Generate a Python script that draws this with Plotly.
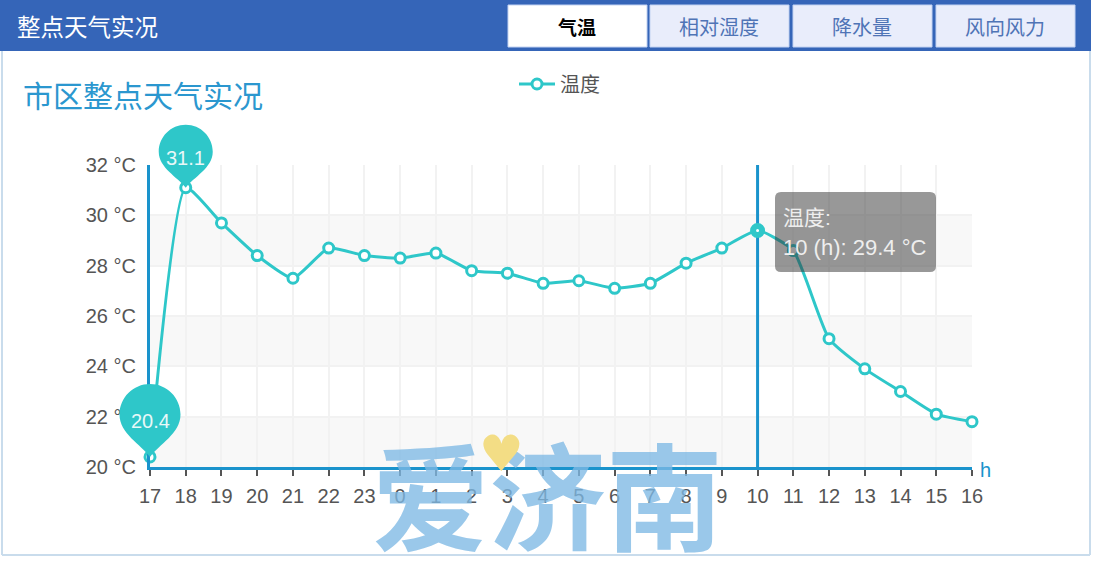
import plotly.graph_objects as go

hours = [17, 18, 19, 20, 21, 22, 23, 0, 1, 2, 3, 4, 5, 6, 7, 8, 9, 10, 11, 12, 13, 14, 15, 16]
temps = [20.4, 31.1, 29.7, 28.4, 27.5, 28.7, 28.4, 28.3, 28.5, 27.8, 27.7, 27.3, 27.4, 27.1, 27.3, 28.1, 28.7, 29.4, 28.6, 25.1, 23.9, 23.0, 22.1, 21.8]
y_ticks = [20, 22, 24, 26, 28, 30, 32]
tabs = ["气温", "相对湿度", "降水量", "风向风力"]
series_name = "温度"
focus_hour = 10

W, H = 1100, 564
L, R, T, B = 150, 972, 165, 467
TEAL = "#2ec7c9"
AXIS = "#1a93cc"
LAT = "Liberation Sans, Noto Sans CJK SC, sans-serif"
CJK = "Noto Sans CJK SC, sans-serif"


def xp(px):
    return (px - L) / (R - L)


def yp(py):
    return (B - py) / (B - T)


def rect(x0, y0, x1, y1, fill, line=None, lw=0):
    return dict(type="rect", xref="paper", yref="paper", x0=xp(x0), x1=xp(x1), y0=yp(y0), y1=yp(y1),
                fillcolor=fill, line=dict(color=line or fill, width=lw), layer="below")


def text(x, y, s, size, color, anchor="left", family=CJK, **kw):
    return dict(xref="paper", yref="paper", x=xp(x), y=yp(y), text=s, showarrow=False, xanchor=anchor,
                yanchor="middle", font=dict(size=size, color=color, family=family), **kw)


def pin(r, h):
    k = 0.5523 * r
    return (f"M 0 0 C {-0.3*r} {0.3*h} {-r} {0.55*h} {-r} {h} "
            f"C {-r} {h+k} {-k} {h+r} 0 {h+r} C {k} {h+r} {r} {h+k} {r} {h} "
            f"C {r} {0.55*h} {0.3*r} {0.3*h} 0 0 Z")


xs = list(range(len(hours)))
focus_i = hours.index(focus_hour)
max_i = temps.index(max(temps))
min_i = temps.index(min(temps))


def pin_shape(i, r, h):
    return dict(type="path", xref="paper", yref="paper", xsizemode="pixel", ysizemode="pixel",
                xanchor=i / (len(hours) - 1),
                yanchor=(temps[i] - y_ticks[0]) / (y_ticks[-1] - y_ticks[0]),
                path=pin(r, h), fillcolor=TEAL, line=dict(width=0))


shapes = [
    rect(0, 0, 1091, 51, "#3565b8"),
    dict(type="line", xref="paper", yref="paper", x0=xp(2), x1=xp(2), y0=yp(51), y1=yp(555), line=dict(color="#c9dcec", width=2), layer="below"),
    dict(type="line", xref="paper", yref="paper", x0=xp(1090), x1=xp(1090), y0=yp(51), y1=yp(555), line=dict(color="#c9dcec", width=2), layer="below"),
    dict(type="line", xref="paper", yref="paper", x0=xp(2), x1=xp(1090), y0=yp(555), y1=yp(555), line=dict(color="#c9dcec", width=2), layer="below"),
]
tab_x = [(508, 647), (650, 789), (793, 932), (936, 1075)]
for i, (a, b) in enumerate(tab_x):
    shapes.append(rect(a, 5, b, 47, "#ffffff" if i == 0 else "#e9edfb", "#c3d3f2", 1))
for a, b in zip(y_ticks[0::2], y_ticks[1::2]):
    shapes.append(dict(type="rect", xref="x domain", yref="y", x0=0, x1=1, y0=a, y1=b, fillcolor="#f8f8f8", line=dict(width=0), layer="below"))
shapes.append(dict(type="line", xref="x", yref="y", x0=focus_i, x1=focus_i, y0=y_ticks[0], y1=y_ticks[-1], line=dict(color=AXIS, width=3), layer="between"))
shapes.append(pin_shape(max_i, 27, 36))
shapes.append(pin_shape(min_i, 30.5, 42.5))
shapes.append(dict(type="path", xref="paper", yref="paper",
                   path=(f"M {xp(781)} {yp(192)} L {xp(930)} {yp(192)} Q {xp(936)} {yp(192)} {xp(936)} {yp(198)} "
                         f"L {xp(936)} {yp(266)} Q {xp(936)} {yp(272)} {xp(930)} {yp(272)} "
                         f"L {xp(781)} {yp(272)} Q {xp(775)} {yp(272)} {xp(775)} {yp(266)} "
                         f"L {xp(775)} {yp(198)} Q {xp(775)} {yp(192)} {xp(781)} {yp(192)} Z"),
                   fillcolor="rgba(50,50,50,0.5)", line=dict(width=0)))

annotations = [
    text(15, 26, "整点天气实况", 23.5, "#ffffff"),
    text(21, 94, "市区整点天气实况", 30, "#2b97cf"),
    text(978, 470, "h", 20, AXIS, family=LAT),
    dict(xref="x", yref="y", x=max_i, y=temps[max_i], text=str(temps[max_i]), showarrow=False,
         yshift=30, font=dict(size=20, color="#e8f8f8", family=LAT)),
    dict(xref="x", yref="y", x=min_i, y=temps[min_i], text=str(temps[min_i]), showarrow=False,
         yshift=36, font=dict(size=20, color="#e8f8f8", family=LAT)),
    text(781, 217, f"{series_name}:", 21, "#eeeeee", family=LAT),
    text(781, 247, f"{focus_hour} (h): {temps[focus_i]} °C", 22, "#eeeeee", family=LAT),
    text(547, 491, "<b>爱济南</b>", 117, "rgba(125,185,228,0.78)", anchor="center", family=CJK),
    text(501, 454, "♥", 50, "#f3dd85", anchor="center", family="DejaVu Sans"),
]
for i, (t, (a, b)) in enumerate(zip(tabs, tab_x)):
    s = f"<b>{t}</b>" if i == 0 else t
    annotations.append(text((a + b) / 2 - 1, 26, s, 20 if i else 19, "#000000" if i == 0 else "#4f74b6", anchor="center"))

fig = go.Figure()
fig.add_trace(go.Scatter(
    x=xs, y=temps, name=series_name, mode="lines+markers", cliponaxis=False,
    line=dict(color=TEAL, width=3, shape="spline", smoothing=0.5),
    marker=dict(size=10, color="#ffffff", line=dict(color=TEAL, width=3)),
))
fig.add_trace(go.Scatter(
    x=[focus_i], y=[temps[focus_i]], mode="markers", showlegend=False, cliponaxis=False,
    marker=dict(size=9, color="#ffffff", line=dict(color=TEAL, width=6)),
))
fig.update_layout(
    width=W, height=H, autosize=False,
    margin=dict(l=L, r=W - R, t=T, b=H - B, pad=0),
    paper_bgcolor="#ffffff", plot_bgcolor="#ffffff",
    font=dict(family=LAT, size=20, color="#555555"),
    shapes=shapes, annotations=annotations, hovermode=False,
    legend=dict(orientation="h", x=xp(514), y=yp(84), xanchor="left", yanchor="middle", itemwidth=36,
                bgcolor="rgba(0,0,0,0)", font=dict(size=20, color="#555555", family=CJK)),
    xaxis=dict(range=[0, len(hours) - 1], tickmode="array", tickvals=xs, ticktext=[str(h) for h in hours],
               showgrid=True, gridcolor="#f2f2f2", gridwidth=2, zeroline=False, showline=True,
               linecolor=AXIS, linewidth=3, ticks="outside", ticklen=6, tickwidth=2, tickcolor="#555555",
               ticklabelstandoff=3, tickfont=dict(size=20, color="#555555", family=LAT), tickangle=0),
    yaxis=dict(range=[y_ticks[0], y_ticks[-1]], tickmode="array", tickvals=y_ticks,
               ticktext=[f"{v} °C" for v in y_ticks],
               showgrid=True, gridcolor="#f2f2f2", gridwidth=2, zeroline=False, showline=True,
               linecolor=AXIS, linewidth=3, ticks="", ticklabelstandoff=7,
               tickfont=dict(size=20, color="#555555", family=LAT)),
)
fig.write_html("out.html", config=dict(displayModeBar=False),
               post_script="document.body.style.margin='0';")
